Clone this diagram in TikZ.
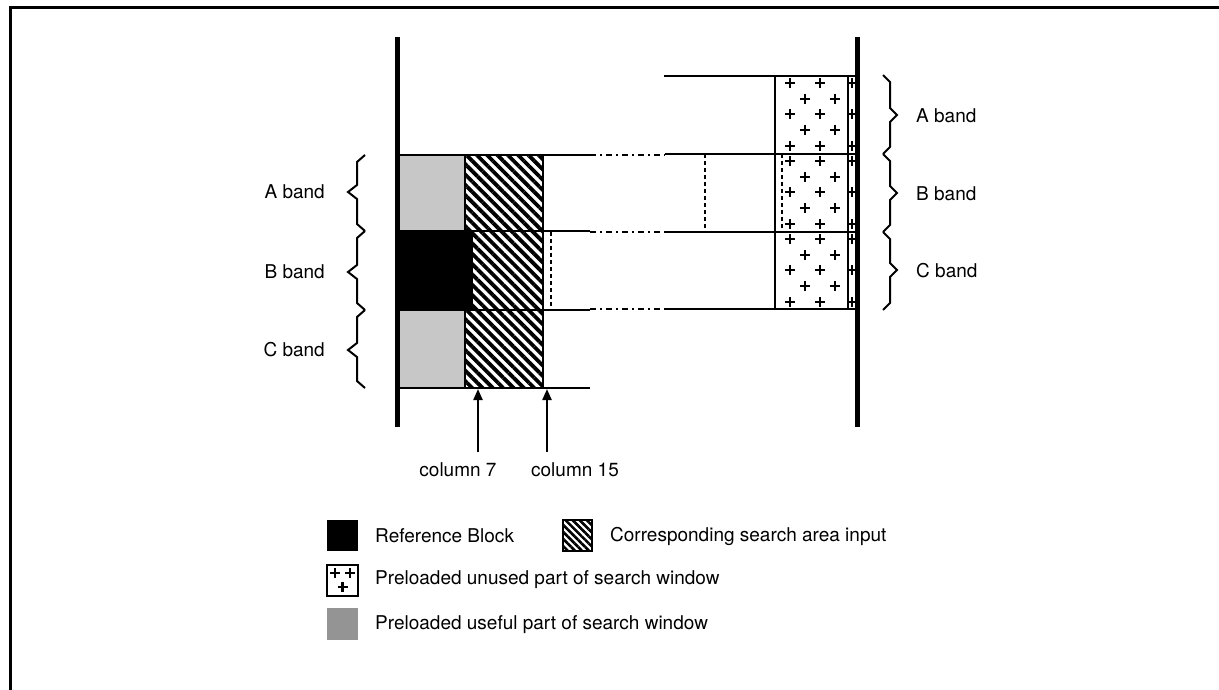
\documentclass[tikz,border=0pt]{standalone}
\usepackage{fontspec}
\setmainfont{TeX Gyre Heros}
\usetikzlibrary{arrows.meta,patterns.meta}
\tikzset{
  lbl/.style={font=\fontsize{19}{22}\selectfont, inner sep=0pt},
  frameline/.style={line width=3pt},
  thickv/.style={line width=5pt},
  hline/.style={line width=2.8pt},
  boxline/.style={line width=2.8pt},
  dashdot/.style={line width=1.8pt, dash pattern=on 6pt off 4pt on 2pt off 4pt},
  vdash/.style={line width=1.2pt, dash pattern=on 4pt off 3pt},
  hatch/.style={pattern={Lines[angle=-45,distance=7.3pt,line width=3.8pt]}},
  usefulfill/.style={fill=black!22},
  plusst/.style={line width=2.4pt},
  bracest/.style={line width=2pt, line join=miter},
  arrowst/.style={line width=2.2pt, -{Triangle[length=11pt,width=9pt]}},
}
\newcommand{\pluscross}[2]{\draw[plusst] (#1-5,#2) -- (#1+5,#2) (#1,#2-5) -- (#1,#2+5);}
\newcommand{\leftbr}[3]{\draw[bracest] (365,#1) -- (357,#1+7) -- (357,#2-7) -- (348,#2) -- (357,#2+7) -- (357,#3-7) -- (365,#3);}
\newcommand{\rightbr}[3]{\draw[bracest] (883,#1) -- (890,#1+7) -- (890,#2-7) -- (897,#2) -- (890,#2+7) -- (890,#3-7) -- (883,#3);}
\newcommand{\plusbox}[1]{%
  \begin{scope}
    \clip (775,#1) rectangle (857,#1+78);
    \foreach \dy in {7,38,70} {\pluscross{790}{#1+\dy}\pluscross{820}{#1+\dy}\pluscross{852}{#1+\dy}}
    \foreach \dy in {23,54} {\pluscross{805}{#1+\dy}\pluscross{835}{#1+\dy}}
  \end{scope}}
\begin{document}
\begin{tikzpicture}[x=1pt,y=-1pt]
\useasboundingbox (0,0) rectangle (1219,690);
% frame
\coordinate (fTL) at (10,8);
\coordinate (fTR) at (1219,8);
\coordinate (fBL) at (10,690);
\draw[frameline] (fTR) -- (fTL) -- (fBL);

% ---------- left structure ----------
\path[usefulfill] (397,155) rectangle (465,231);
\path[usefulfill] (397,310) rectangle (465,388);
\fill[black] (397,231) rectangle (473,310);
\path[hatch] (465,155) rectangle (543,231);
\path[hatch] (473,231) rectangle (543,310);
\path[hatch] (465,310) rectangle (543,388);
\draw[line width=1.6pt] (465,155) -- (465,231) (465,310) -- (465,388) (543,155) -- (543,388);

% horizontal lines
\draw[hline] (397,155) -- (590,155);
\draw[hline] (397,231) -- (590,231);
\draw[hline] (397,310) -- (590,310);
\draw[hline] (397,388) -- (590,388);
\draw[dashdot] (590,155) -- (665,155);
\draw[dashdot] (590,232) -- (665,232);
\draw[dashdot] (590,309) -- (665,309);
\draw[hline] (665,154) -- (857,154);
\draw[hline] (665,232) -- (857,232);
\draw[hline] (665,309) -- (857,309);
\draw[hline] (664,76) -- (857,76);

% dashed verticals
\draw[vdash] (551,232) -- (551,309);
\draw[vdash] (705,154) -- (705,232);
\draw[vdash] (782,154) -- (782,232);

% plus boxes
\plusbox{76}
\plusbox{154}
\plusbox{232}
\draw[boxline] (775,76) -- (775,309);
\draw[line width=1.8pt] (848,76) -- (848,309);

% thick verticals
\draw[thickv] (397,37) -- (397,427);
\draw[thickv] (857,37) -- (857,427);

% left braces and labels
\leftbr{155}{192}{231}
\leftbr{231}{272}{310}
\leftbr{310}{350}{388}
\node[lbl, anchor=east] (lA) at (325,192) {A band};
\node[lbl, anchor=east] (lB) at (325,272) {B band};
\node[lbl, anchor=east] (lC) at (325,350) {C band};

% right braces and labels
\rightbr{75}{115}{154}
\rightbr{154}{193}{232}
\rightbr{232}{270}{310}
\node[lbl, anchor=west] (rA) at (916,116) {A band};
\node[lbl, anchor=west] (rB) at (916,194) {B band};
\node[lbl, anchor=west] (rC) at (916,271) {C band};

% column arrows
\coordinate (c7s) at (478,452);
\coordinate (c7e) at (478,389);
\coordinate (c15s) at (547,452);
\coordinate (c15e) at (547,389);
\draw[arrowst] (c7s) -- (c7e);
\draw[arrowst] (c15s) -- (c15e);
\node[lbl] (col7) at (458,470) {column 7};
\node[lbl] (col15) at (575,470) {column 15};

% legend
\fill[black] (327,520) rectangle (358,551);
\node[lbl, anchor=west] (legRef) at (375,536) {Reference Block};
\path[pattern={Lines[angle=-45,distance=5pt,line width=2.6pt]}] (563,520) rectangle (592,551);
\draw[line width=1.6pt] (563,520) rectangle (592,551);
\node[lbl, anchor=west] (legCorr) at (610,536) {Corresponding search area input};
\draw[line width=1.6pt] (327,565) rectangle (358,596);
\pluscross{335}{573}\pluscross{350}{573}\pluscross{342.5}{587}
\node[lbl, anchor=west] (legUnused) at (375,580) {Preloaded unused part of search window};
\fill[black!42] (327,608) rectangle (358,640);
\node[lbl, anchor=west] (legUseful) at (375,625) {Preloaded useful part of search window};
\end{tikzpicture}
\end{document}
